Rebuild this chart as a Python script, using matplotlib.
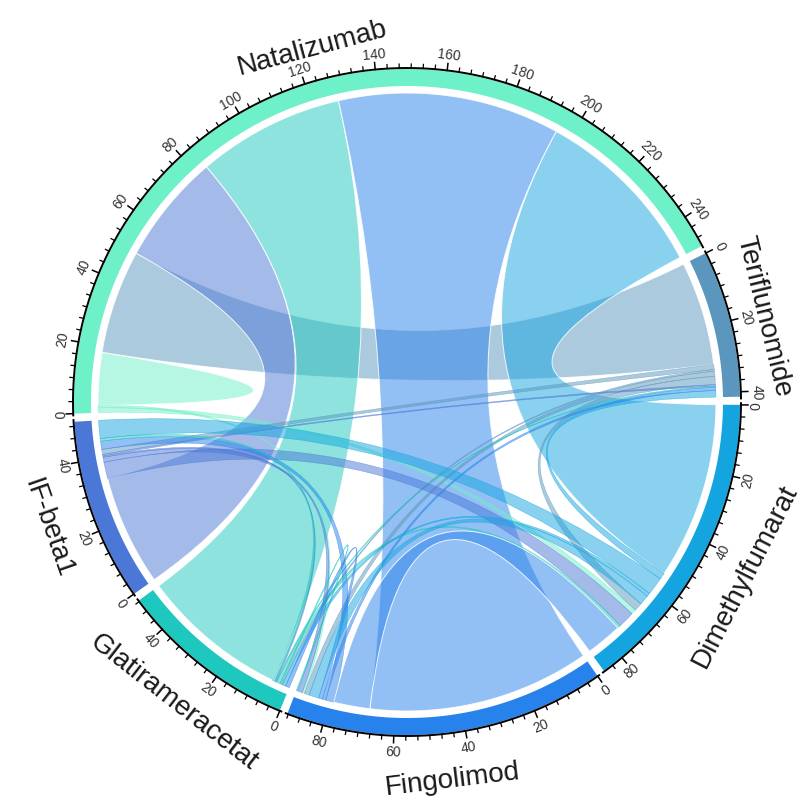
import numpy as np
import matplotlib
matplotlib.use("Agg")
import matplotlib.pyplot as plt
from matplotlib.path import Path
from matplotlib.patches import PathPatch

# ---------------- data ----------------
sectors = ["Natalizumab", "Teriflunomide", "Dimethylfumarat",
           "Fingolimod", "Glatirameracetat", "IF-beta1"]
ring_colors = ["#6ef0c8", "#5a96be", "#14a5e1", "#2882eb", "#1ec8be", "#4b78d7"]

# links: source sector -> target sector, value (chord coloured by target)
link_src = [0, 0, 0, 0, 0, 0, 2, 3, 5, 4, 2, 3, 1, 1, 1, 1, 2, 3, 4, 5, 5, 5, 2, 3, 4, 4, 2, 3]
link_dst = [0, 1, 5, 4, 3, 2, 0, 0, 1, 1, 1, 1, 2, 3, 4, 5, 5, 5, 5, 3, 4, 2, 4, 4, 2, 3, 3, 2]
link_val = [8.0, 31.6, 33.6, 44.7, 67.5, 53.7, 1.5, 0.7, 1.5, 0.5, 2.5, 1.5, 2.0, 1.0,
            0.3, 0.5, 5.0, 1.5, 0.4, 2.5, 0.8, 5.5, 1.0, 0.4, 1.0, 1.2, 11.0, 3.0]

# order of link ends inside each sector (clockwise from sector start)
order_nat = [6, 7, 0, 0, 1, 2, 3, 4, 5]
order_ter = [1, 8, 9, 11, 10, 15, 14, 13, 12]
order_dim = [5, 12, 21, 24, 27, 10, 6, 16, 22, 26]
order_fin = [4, 26, 19, 13, 25, 27, 11, 7, 17, 23]
order_gla = [25, 24, 9, 23, 22, 14, 18, 20, 3]
order_ifb = [2, 16, 17, 18, 15, 8, 19, 20, 21]
orders = [order_nat, order_ter, order_dim, order_fin, order_gla, order_ifb]

# ---------------- layout ----------------
W, H = 802, 804
cx, cy = 407.0, 403.0
r_chord = 309
r_ring_in, r_ring_out = 316, 333
r_axis = 334
r_tlab = 350
start_angle = 182.0
gap = 1.4

fig = plt.figure(figsize=(W / 100, H / 100), dpi=100)
ax = fig.add_axes([0, 0, 1, 1])
ax.set_xlim(0, W)
ax.set_ylim(H, 0)
ax.axis("off")


def pt(theta, r):
    t = np.radians(theta)
    return (cx + r * np.cos(t), cy - r * np.sin(t))


def arc(t0, t1, r):
    n = max(2, int(abs(t1 - t0) * 3) + 2)
    return [pt(t, r) for t in np.linspace(t0, t1, n)]


totals = [sum(link_val[i] for i in o) for o in orders]
dpu = (360 - gap * len(sectors)) / sum(totals)

sec_start = []
a = start_angle
for tot in totals:
    sec_start.append(a)
    a -= tot * dpu + gap


def ang(s, u):
    return sec_start[s] - u * dpu


# link ends
ends = {i: [] for i in range(len(link_val))}
for s, o in enumerate(orders):
    cur = 0.0
    for li in o:
        ends[li].append((s, cur, cur + link_val[li]))
        cur += link_val[li]

# ---------------- chords ----------------
for li in range(len(link_val)):
    (s1, u0, u1), (s2, v0, v1) = ends[li][0], ends[li][1]
    a1, a2 = ang(s1, u0), ang(s1, u1)
    b1, b2 = ang(s2, v0), ang(s2, v1)
    verts, codes = [], []
    A = arc(a1, a2, r_chord)
    verts += A
    codes += [Path.MOVETO] + [Path.LINETO] * (len(A) - 1)
    if abs(a2 - b1) < 1e-6:
        B = arc(b1, b2, r_chord)[1:]
        verts += B
        codes += [Path.LINETO] * len(B)
    else:
        verts += [(cx, cy), pt(b1, r_chord)]
        codes += [Path.CURVE3, Path.CURVE3]
        B = arc(b1, b2, r_chord)[1:]
        verts += B
        codes += [Path.LINETO] * len(B)
    verts += [(cx, cy), pt(a1, r_chord), pt(a1, r_chord)]
    codes += [Path.CURVE3, Path.CURVE3, Path.CLOSEPOLY]
    col = matplotlib.colors.to_rgb(ring_colors[link_dst[li]])
    big = link_val[li] >= 8
    patch = PathPatch(Path(verts, codes), facecolor=(*col, 0.5),
                      edgecolor=(1, 1, 1, 0.85) if big else (*col, 0.6),
                      lw=0.7 if big else 0.4, zorder=2)
    ax.add_patch(patch)

# ---------------- ring, axis, ticks ----------------
for s, tot in enumerate(totals):
    t0, t1 = ang(s, 0), ang(s, tot)
    outer = arc(t0, t1, r_ring_out)
    inner = arc(t1, t0, r_ring_in)
    poly = outer + inner + [outer[0]]
    ax.add_patch(plt.Polygon(poly, closed=True, facecolor=ring_colors[s],
                             edgecolor="none", zorder=3))
    ax_line = np.array(arc(t0 + 0.3, t1 - 0.3, r_axis))
    ax.plot(ax_line[:, 0], ax_line[:, 1], color="black", lw=1.4, zorder=4)
    for u in np.arange(0, tot + 1e-9, 20 / 6):
        th = ang(s, u)
        major = abs(u / 20 - round(u / 20)) < 1e-6
        ln = 7 if major else 4
        p0, p1 = pt(th, r_axis), pt(th, r_axis + ln)
        ax.plot([p0[0], p1[0]], [p0[1], p1[1]], color="black",
                lw=1.1 if major else 0.9, zorder=4)
    for u in np.arange(0, tot + 1e-9, 20):
        th = ang(s, u)
        thn = (th + 180) % 360 - 180
        rot = thn - 90 if thn >= 0 else thn + 90
        x, y = pt(th, r_tlab)
        ax.text(x, y, f"{int(u)}", rotation=rot, rotation_mode="anchor",
                ha="center", va="center", fontsize=10, color="#333333",
                family="Liberation Sans", zorder=5)
    # sector name
    thc = (t0 + t1) / 2
    thn = (thc + 180) % 360 - 180
    if thn >= 0:
        rot, rl = thn - 90, 367
    else:
        rot, rl = thn + 90, 380
    x, y = pt(thc, rl)
    ax.text(x, y, sectors[s], rotation=rot, rotation_mode="anchor",
            ha="center", va="center", fontsize=20, color="#1a1a1a",
            family="Liberation Sans", zorder=5)

fig.savefig("out.png", dpi=100)
